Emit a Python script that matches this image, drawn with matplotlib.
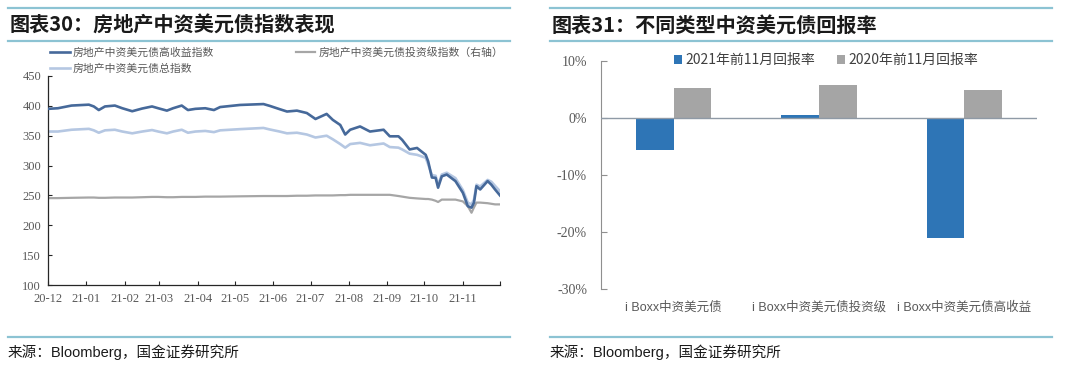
import matplotlib
matplotlib.use('Agg')
import matplotlib.pyplot as plt
import matplotlib.dates as mdates
import pandas as pd
from matplotlib.lines import Line2D

plt.rcParams['font.family'] = ['Noto Sans CJK SC', 'DejaVu Sans']

# ---------------- data: left chart ----------------
dates = ['2020-12-01', '2020-12-09', '2020-12-20', '2021-01-03', '2021-01-07', '2021-01-11',
         '2021-01-16', '2021-01-24', '2021-01-30', '2021-02-07', '2021-02-15', '2021-02-23',
         '2021-02-28', '2021-03-07', '2021-03-12', '2021-03-19', '2021-03-24', '2021-03-30',
         '2021-04-07', '2021-04-14', '2021-04-19', '2021-05-05', '2021-05-24', '2021-05-29',
         '2021-06-06', '2021-06-12', '2021-06-20', '2021-06-28', '2021-07-05', '2021-07-14',
         '2021-07-19', '2021-07-25', '2021-07-29', '2021-08-02', '2021-08-10', '2021-08-18',
         '2021-08-29', '2021-09-03', '2021-09-10', '2021-09-13', '2021-09-19', '2021-09-25',
         '2021-10-02', '2021-10-04', '2021-10-07', '2021-10-10', '2021-10-12', '2021-10-15',
         '2021-10-19', '2021-10-26', '2021-11-01', '2021-11-05', '2021-11-08', '2021-11-10',
         '2021-11-12', '2021-11-15', '2021-11-21', '2021-11-24', '2021-11-27', '2021-12-01']

hy_index = [395, 396, 400.5, 402, 399, 393,
            399, 400.5, 396, 391, 395.5, 399,
            396, 392, 396, 400.5, 393, 395,
            396, 393, 398, 401.5, 403, 400,
            394.5, 390.5, 392, 388, 378, 386.5,
            376.5, 368, 352, 360, 365.5, 357,
            360, 349, 349, 343, 327, 329.5,
            318, 307, 280, 279.5, 263, 282,
            285, 274, 254.5, 232, 229.5, 238,
            265.5, 260, 274, 268, 260, 250]

total_index = [357, 357, 360, 361.5, 359, 355,
               359, 360, 357, 354, 357, 359.5,
               357, 354, 357, 360, 355, 357,
               358, 356, 359, 361, 363, 360.5,
               357, 354, 355, 352, 347, 350,
               344, 336, 330, 336, 338, 334,
               337, 331, 330, 327, 320, 318,
               313, 302, 284, 283, 267, 285,
               288, 279, 259, 238, 235, 243,
               268, 265, 276, 273, 266, 257]

ig_index = [245.5, 245.5, 246, 246.5, 246.5, 246,
            246, 246.5, 246.5, 246.5, 247, 247.5,
            247.5, 247, 247, 247.5, 247.5, 247.5,
            248, 248, 248, 248.5, 249, 249,
            249, 249, 249.5, 249.5, 250, 250,
            250, 250.5, 250.5, 251, 251, 251,
            251, 251, 249, 248, 246, 245,
            244, 244, 243, 241, 239, 243,
            243, 243, 240, 232, 221, 230,
            238, 238, 237, 236, 235, 235]

series_labels = ['房地产中资美元债高收益指数', '房地产中资美元债总指数', '房地产中资美元债投资级指数（右轴）']
month_ticks = ['2020-12-01', '2021-01-01', '2021-02-01', '2021-03-01', '2021-04-01', '2021-05-01',
               '2021-06-01', '2021-07-01', '2021-08-01', '2021-09-01', '2021-10-01', '2021-11-01',
               '2021-12-01']
month_labels = ['20-12', '21-01', '21-02', '21-03', '21-04', '21-05', '21-06', '21-07', '21-08',
                '21-09', '21-10', '21-11', '']
left_yticks = [100, 150, 200, 250, 300, 350, 400, 450]

# ---------------- data: right chart ----------------
categories = ['i Boxx中资美元债', 'i Boxx中资美元债投资级', 'i Boxx中资美元债高收益']
ret_2021 = [-5.7, 0.4, -21.1]
ret_2020 = [5.3, 5.7, 4.85]
bar_labels = ['2021年前11月回报率', '2020年前11月回报率']
right_yticks = [-30, -20, -10, 0, 10]

# ---------------- styling ----------------
W, H = 1080, 376
teal = '#8cc3d3'
c_hy = '#46699a'
c_tot = '#b5c7e2'
c_ig = '#a6a6a6'
c_blue = '#2e75b6'
c_gray = '#a5a5a5'
tick_col = '#595959'
serif = ['Liberation Serif', 'DejaVu Serif']
mixed = ['Liberation Sans', 'Noto Sans CJK SC']

fig = plt.figure(figsize=(W / 100, H / 100), dpi=100)


def fx(px):
    return px / W


def fy(py):
    return 1 - py / H


def hline(x0, x1, y):
    fig.add_artist(Line2D([fx(x0), fx(x1)], [fy(y), fy(y)], color=teal, lw=1.6,
                          transform=fig.transFigure))


for (x0, x1) in [(8, 510), (550, 1052)]:
    hline(x0, x1, 8)
    hline(x0, x1, 41)
    hline(x0, x1, 337)

fig.text(fx(10), fy(25), '图表30：房地产中资美元债指数表现', fontsize=14.5,
         fontweight='bold', va='center', ha='left', color='#1a1a1a')
fig.text(fx(552), fy(25), '图表31：不同类型中资美元债回报率', fontsize=14.5,
         fontweight='bold', va='center', ha='left', color='#1a1a1a')
for x0 in [8, 550]:
    fig.text(fx(x0), fy(352), '来源：Bloomberg，国金证券研究所', fontsize=10.5,
             family=mixed, va='center', ha='left', color='#1a1a1a')

# ---------------- left chart ----------------
ax1 = fig.add_axes([fx(48), fy(285), fx(500) - fx(48), fy(76) - fy(285)])
d = pd.to_datetime(dates)
l1, = ax1.plot(d, hy_index, color=c_hy, lw=1.9, label=series_labels[0], zorder=3)
l2, = ax1.plot(d, total_index, color=c_tot, lw=1.9, label=series_labels[1], zorder=2)
l3, = ax1.plot(d, ig_index, color=c_ig, lw=1.6, label=series_labels[2], zorder=1)
ax1.set_xlim(pd.Timestamp(month_ticks[0]), pd.Timestamp(month_ticks[-1]))
ax1.set_ylim(100, 450)
ax1.set_yticks(left_yticks)
ax1.set_xticks(pd.to_datetime(month_ticks))
ax1.set_xticklabels(month_labels)
for s in ['top', 'right']:
    ax1.spines[s].set_visible(False)
for s in ['left', 'bottom']:
    ax1.spines[s].set_color('#262626')
    ax1.spines[s].set_linewidth(0.9)
ax1.tick_params(axis='both', direction='in', length=3, width=0.8, colors='#262626',
                labelcolor=tick_col, labelsize=9)
ax1.tick_params(axis='x', pad=6)
ax1.tick_params(axis='y', pad=5)
for lab in ax1.get_xticklabels() + ax1.get_yticklabels():
    lab.set_family(serif)
leg1 = fig.legend(handles=[l1, l2, l3], loc='upper left', bbox_to_anchor=(fx(50), fy(47)),
                  ncol=2, frameon=False, fontsize=7.8, handlelength=1.8, handletextpad=0.25,
                  columnspacing=7.6, labelspacing=0.5, borderpad=0, borderaxespad=0)
for t in leg1.get_texts():
    t.set_color(tick_col)

# ---------------- right chart ----------------
ax2 = fig.add_axes([fx(601), fy(289), fx(1037) - fx(601), fy(60.7) - fy(289)])
xs = list(range(len(categories)))
bw = 0.26
b1 = ax2.bar([x - bw / 2 for x in xs], ret_2021, width=bw, color=c_blue, label=bar_labels[0], zorder=2)
b2 = ax2.bar([x + bw / 2 for x in xs], ret_2020, width=bw, color=c_gray, label=bar_labels[1], zorder=2)
ax2.set_xlim(-0.5, 2.5)
ax2.set_ylim(-30, 10)
ax2.set_yticks(right_yticks)
ax2.set_yticklabels([f'{v}%' for v in right_yticks])
ax2.axhline(0, color='#8f9aa6', lw=1.0, zorder=3)
ax2.set_xticks(xs)
ax2.set_xticklabels(categories)
for s in ['top', 'right', 'bottom']:
    ax2.spines[s].set_visible(False)
ax2.spines['left'].set_color('#8f8f8f')
ax2.spines['left'].set_linewidth(0.8)
ax2.tick_params(axis='y', direction='in', length=4, width=0.8, colors='#8f8f8f',
                labelcolor=tick_col, labelsize=10, pad=10)
ax2.tick_params(axis='x', length=0, labelcolor=tick_col, labelsize=9, pad=9)
for lab in ax2.get_yticklabels():
    lab.set_family(serif)
for lab in ax2.get_xticklabels():
    lab.set_family(mixed)
leg2 = fig.legend(handles=[b1, b2], loc='center left', bbox_to_anchor=(fx(674), fy(60)),
                  ncol=2, frameon=False, fontsize=10, handlelength=0.6, handleheight=0.6,
                  handletextpad=0.2, columnspacing=1.6, borderpad=0, borderaxespad=0)
for t in leg2.get_texts():
    t.set_color('#404040')

fig.savefig('out.png', dpi=100)
